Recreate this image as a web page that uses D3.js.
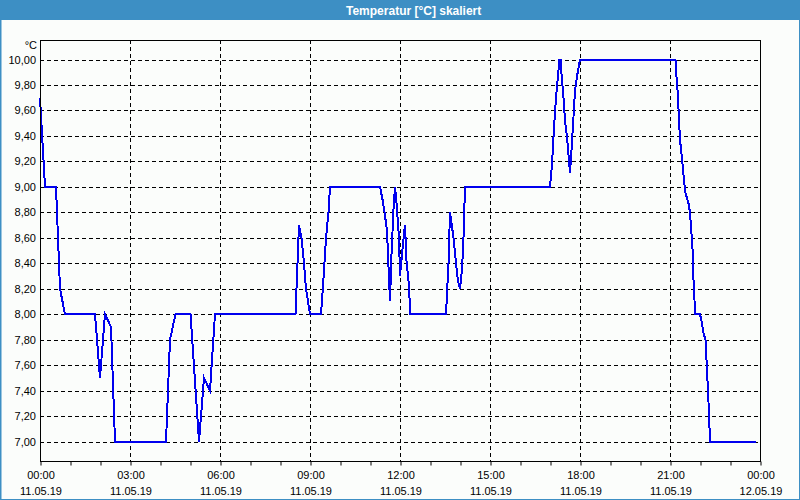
<!DOCTYPE html>
<html><head><meta charset="utf-8">
<script src="https://cdn.jsdelivr.net/npm/d3@7"></script>
<style>html,body{margin:0;padding:0;background:#fbfdfb;}svg{display:block;}</style>
</head><body>
<script>
// minutes after 11.05.19 00:00
const minutes = [0,10,32,34,36,38,40,50,110,120,130,142,150,252,260,271,301,318,328,340,350,
 511,518,523,528,532,538,540,562,566,572,577,580,680,685,689,694,697,700,703,707,710,713,718,720,
 724,728,730,733,737,739,740,812,817,820,827,832,836,840,844,847,850,1020,1024,1027,1030,1034,
 1039,1042,1043,1047,1050,1054,1057,1060,1063,1067,1070,1075,1080,1271,1273,1276,1278,1280,1283,
 1285,1288,1291,1297,1300,1303,1306,1307,1309,1310,1320,1324,1327,1331,1333,1336,1338,1340,1432];
const temps = [9.70,9.0,9.0,8.8,8.6,8.4,8.2,8.0,8.0,7.5,8.0,7.9,7.0,7.0,7.8,8.0,8.0,7.0,7.5,7.4,8.0,
 8.0,8.7,8.6,8.4,8.2,8.05,8.0,8.0,8.22,8.6,8.8,9.0,9.0,8.9,8.8,8.66,8.37,8.1,8.47,8.82,9.0,8.87,8.6,8.3,
 8.47,8.63,8.7,8.42,8.26,8.13,8.0,8.0,8.4,8.8,8.6,8.4,8.26,8.2,8.35,8.6,9.0,9.0,9.18,9.39,9.59,9.79,
 10.0,10.0,9.89,9.70,9.52,9.39,9.25,9.11,9.29,9.55,9.76,9.89,10.0,10.0,9.86,9.71,9.52,9.37,9.26,
 9.18,9.05,8.95,8.87,8.80,8.63,8.45,8.27,8.11,8.0,8.0,7.93,7.85,7.80,7.64,7.40,7.22,7.0,7.0];
const yTicks = [7.0,7.2,7.4,7.6,7.8,8.0,8.2,8.4,8.6,8.8,9.0,9.2,9.4,9.6,9.8,10.0];
const title = "Temperatur [°C] skaliert";
const unit = "°C";

const W = 800, H = 500;
const t0 = Date.UTC(2019,4,11,0,0);
const start = new Date(t0), end = new Date(t0 + 24*3600e3);
const data = minutes.map((m,i)=>({t:new Date(t0 + m*60e3), v:temps[i]}));

const svg = d3.select("body").append("svg").attr("width",W).attr("height",H);
svg.append("rect").attr("x",0).attr("y",0).attr("width",W).attr("height",H).attr("fill","#fbfdfb");
// window border + title bar
svg.append("rect").attr("x",0.5).attr("y",0.5).attr("width",W-1).attr("height",H-1)
  .attr("fill","none").attr("stroke","#3d8fc4").attr("stroke-width",1);
svg.append("rect").attr("x",0).attr("y",0).attr("width",1.5).attr("height",H).attr("fill","#3d8fc4");
svg.append("rect").attr("x",0).attr("y",0).attr("width",W).attr("height",20).attr("fill","#3d8fc4");
svg.append("text").attr("x",346).attr("y",14.5).attr("fill","#ffffff")
  .attr("font-family","'Liberation Sans', Arial, sans-serif").attr("font-weight","bold")
  .attr("font-size","12px").text(title);

const L = 40, R = 760, T = 40, B = 461;
const x = d3.scaleUtc().domain([start,end]).range([L,R]);
const y = d3.scaleLinear().domain([7,10]).range([441.5,59.5]);

const font = "'Liberation Sans', Arial, sans-serif";
const g = svg.append("g");

// horizontal grid
g.selectAll(".hg").data(yTicks).join("line")
  .attr("x1",L).attr("x2",R)
  .attr("y1",d=>Math.round(y(d))+0.5).attr("y2",d=>Math.round(y(d))+0.5)
  .attr("stroke","#000").attr("stroke-dasharray","4,3").attr("stroke-width",1);
// vertical grid
const major = d3.utcHour.every(3).range(start, d3.utcHour.offset(end,1));
g.selectAll(".vg").data(major.filter(d=>+d>+start && +d<+end)).join("line")
  .attr("x1",d=>Math.round(x(d))+0.5).attr("x2",d=>Math.round(x(d))+0.5)
  .attr("y1",T).attr("y2",B)
  .attr("stroke","#000").attr("stroke-dasharray","4,3").attr("stroke-width",1);

// y labels
g.selectAll(".yl").data(yTicks).join("text")
  .attr("x",36).attr("y",d=>y(d)+4).attr("text-anchor","end")
  .attr("font-family",font).attr("font-size","11px").attr("fill","#000")
  .text(d=>d3.format(".2f")(d).replace(".",","));
g.append("text").attr("x",37).attr("y",49).attr("text-anchor","end")
  .attr("font-family",font).attr("font-size","11px").attr("fill","#000").text(unit);

// line
const line = d3.line().x(d=>x(d.t)).y(d=>y(d.v));
g.append("path").datum(data).attr("d",line).attr("fill","none")
  .attr("stroke","#0000ee").attr("stroke-width",2).attr("stroke-linejoin","miter")
  .attr("shape-rendering","crispEdges");

// frame
g.append("rect").attr("x",L+0.5).attr("y",T+0.5).attr("width",R-L).attr("height",B-T)
  .attr("fill","none").attr("stroke","#000").attr("stroke-width",1);

// x axis ticks + labels
const xAxis = d3.axisBottom(x).ticks(d3.utcHour.every(1)).tickSize(4).tickFormat("");
const ax = svg.append("g").attr("transform",`translate(0.5,${B+0.5})`).call(xAxis);
ax.select(".domain").remove();
ax.selectAll("line").attr("stroke","#000");
const labs = svg.append("g");
labs.selectAll(".t1").data(major.filter(d=>+d<=+end)).join("text")
  .attr("x",d=>x(d)+1).attr("y",479).attr("text-anchor","middle")
  .attr("font-family",font).attr("font-size","11px").attr("fill","#000")
  .text(d=>d3.utcFormat("%H:%M")(d));
labs.selectAll(".t2").data(major.filter(d=>+d<=+end)).join("text")
  .attr("x",d=>x(d)+1).attr("y",495).attr("text-anchor","middle")
  .attr("font-family",font).attr("font-size","11px").attr("fill","#000")
  .text(d=>d3.utcFormat("%d.%m.%y")(d));
</script>
</body></html>
